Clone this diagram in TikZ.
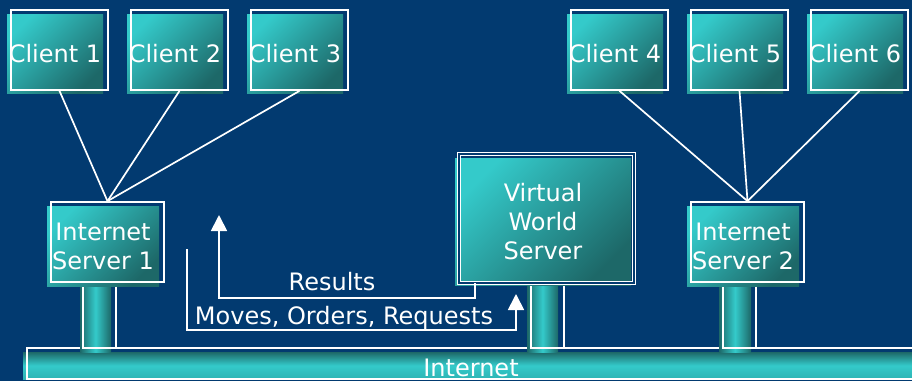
\documentclass[tikz,border=0pt]{standalone}
\usepackage{fontspec}
\setmainfont{DejaVu Sans}
\usetikzlibrary{arrows.meta}

\definecolor{navy}{HTML}{023A70}
\definecolor{tealhi}{HTML}{34CACA}
\definecolor{tealmid}{HTML}{2DB4B4}
\definecolor{teallo}{HTML}{1D6868}

\tikzset{
  label/.style={text=white, font=\fontsize{24}{29}\selectfont, align=center, inner sep=0pt},
  panel/.style={label, top color=tealhi, bottom color=teallo, shading angle=45},
  frame/.style={draw=white, line width=1.8pt, inner sep=0pt},
  dframe/.style={draw=white, line width=1.1pt, double=navy, double distance=1.4pt, inner sep=0pt},
  wire/.style={draw=white, line width=1.7pt},
  flow/.style={draw=white, line width=1.8pt, -{Triangle[width=16pt,length=16pt]}},
  pillar/.style={left color=teallo, right color=teallo, middle color=tealhi},
}

\begin{document}
\begin{tikzpicture}[x=1pt, y=-1pt]
  % background
  \fill[navy] (0,0) rectangle (912,381);
  \useasboundingbox (0,0) rectangle (912,381);

  % Internet backbone
  \shade[top color=teallo, bottom color=tealmid, middle color=tealhi] (23,352) rectangle (914,379);
  \draw[frame] (27,348) rectangle (916,379);
  \node[label] (net) at (471,368) {Internet};

  % pillars
  \shade[pillar] (80,284) rectangle (111,352);
  \draw[frame] (83,282) rectangle (116,348);
  \shade[pillar] (527,284) rectangle (558,352);
  \draw[frame] (531,282) rectangle (564,348);
  \shade[pillar] (719,284) rectangle (751,352);
  \draw[frame] (723,282) rectangle (756,348);

  % clients
  \foreach \n/\x in {1/55,2/175,3/295,4/615,5/735,6/855}{
    \node[panel, minimum width=96pt, minimum height=79pt] (c\n) at (\x,53.5) {Client \n};
    \node[frame, minimum width=97pt, minimum height=80pt] (c\n o) at (\x+4.5,50) {};
  }

  % internet servers
  \node[panel, minimum width=112pt, minimum height=80pt] (s1) at (103,246) {Internet\\Server 1};
  \node[frame, minimum width=113pt, minimum height=80pt] (s1o) at (107.5,242) {};
  \node[panel, minimum width=112pt, minimum height=80pt] (s2) at (743,246) {Internet\\Server 2};
  \node[frame, minimum width=113pt, minimum height=80pt] (s2o) at (747.5,242) {};

  % virtual world server
  \node[panel, minimum width=176pt, minimum height=127pt] (vws) at (543,221.5) {Virtual\\World\\Server};
  \node[dframe, minimum width=175pt, minimum height=129pt] (vwso) at (546.5,218.5) {};

  % client links
  \foreach \n in {1,2,3}{ \draw[wire] (c\n o.south) -- (s1o.north); }
  \foreach \n in {4,5,6}{ \draw[wire] (c\n o.south) -- (s2o.north); }

  % message flows
  \coordinate (resStart) at (475,283);
  \coordinate (resEnd) at (219,215);
  \draw[flow] (resStart) |- (219,298) -- (resEnd);
  \node[label] (res) at (332,282) {Results};

  \coordinate (movStart) at (187,249);
  \coordinate (movEnd) at (516,294);
  \draw[flow] (movStart) |- (516,330) -- (movEnd);
  \node[label] (mov) at (344,318) {Moves, Orders, Requests};
\end{tikzpicture}
\end{document}
